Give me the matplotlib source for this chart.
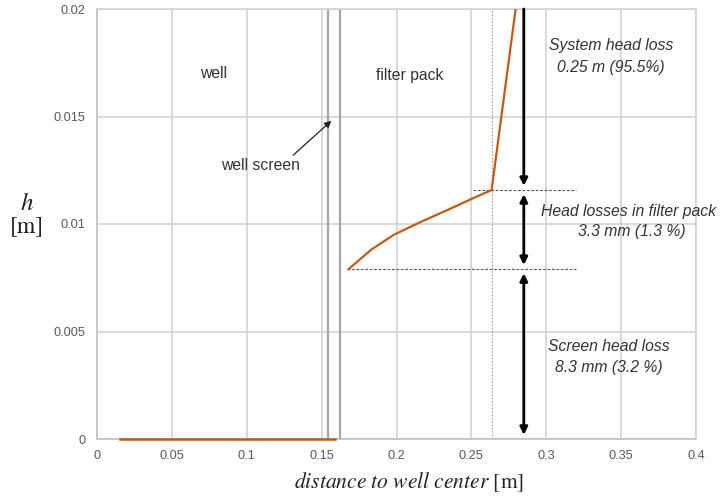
import matplotlib
matplotlib.use("Agg")
import matplotlib.pyplot as plt

# --- data ---
well_x = [0.0155, 0.159]
well_h = [0.0, 0.0]
pack_x = [0.168, 0.183, 0.198, 0.216, 0.234, 0.2515, 0.2635, 0.2805]
pack_h = [0.0079, 0.0088, 0.00949, 0.01009, 0.01065, 0.01121, 0.01158, 0.0205]
screen_x = [0.1545, 0.162]
pack_edge_x = 0.2635
level_screen = 0.0079
level_pack = 0.01158
arrow_x = 0.285
xticks = [0, 0.05, 0.1, 0.15, 0.2, 0.25, 0.3, 0.35, 0.4]
xtick_labels = ["0", "0.05", "0.1", "0.15", "0.2", "0.25", "0.3", "0.35", "0.4"]
yticks = [0, 0.005, 0.01, 0.015, 0.02]
ytick_labels = ["0", "0.005", "0.01", "0.015", "0.02"]

plt.rcParams["mathtext.fontset"] = "stix"

fig = plt.figure(figsize=(7.2, 5.0), dpi=100)
ax = fig.add_axes([0.1347, 0.122, 0.832, 0.860])
ax.set_xlim(0, 0.4)
ax.set_ylim(0, 0.02)

grid_c = "#d0d0d0"
ax.set_xticks(xticks)
ax.set_xticklabels(xtick_labels)
ax.set_yticks(yticks)
ax.set_yticklabels(ytick_labels)
ax.grid(True, color=grid_c, linewidth=1.1)
ax.set_axisbelow(True)
for s in ax.spines.values():
    s.set_color(grid_c)
    s.set_linewidth(1.1)
ax.spines["bottom"].set_color("#bdbdbd")
ax.spines["left"].set_color("#bdbdbd")
ax.tick_params(length=0, labelsize=9.2, labelcolor="#595959", pad=8)
for lab in ax.get_xticklabels() + ax.get_yticklabels():
    lab.set_family("Liberation Sans")

# well screen lines
for sx in screen_x:
    ax.axvline(sx, color="#a6a6a6", linewidth=1.6, zorder=2)

# dotted / dashed guide lines
ax.axvline(pack_edge_x, color="#a0a0a0", linewidth=0.8, linestyle=(0, (1.5, 1.5)), zorder=2)
ax.plot([0.251, 0.32], [level_pack, level_pack], color="#555555", linewidth=0.8,
        linestyle=(0, (2.5, 1.5)), zorder=2)
ax.plot([0.167, 0.32], [level_screen, level_screen], color="#555555", linewidth=0.8,
        linestyle=(0, (2.5, 1.5)), zorder=2)

# head curves
red = "#c55a11"
ax.plot(well_x, well_h, color=red, linewidth=1.8, zorder=3, clip_on=False)
ax.plot(pack_x, pack_h, color=red, linewidth=1.6, zorder=3)

# arrows
akw = dict(arrowstyle="-|>", color="black", lw=2.0, mutation_scale=11, shrinkA=0, shrinkB=3)
ax.annotate("", xy=(arrow_x, level_pack), xytext=(arrow_x, 0.02),
            arrowprops=akw, annotation_clip=False)
dkw = dict(arrowstyle="<|-|>", color="black", lw=2.0, mutation_scale=11, shrinkA=3, shrinkB=3)
ax.annotate("", xy=(arrow_x, level_screen), xytext=(arrow_x, level_pack), arrowprops=dkw)
ax.annotate("", xy=(arrow_x, 0.0), xytext=(arrow_x, level_screen), arrowprops=dkw)

# well screen pointer
ax.annotate("", xy=(0.1565, 0.0148), xytext=(0.131, 0.0132),
            arrowprops=dict(arrowstyle="-|>", color="#222222", lw=0.9, mutation_scale=10,
                            shrinkA=0, shrinkB=0))

tf = dict(family="Liberation Sans", fontsize=11.3, color="#333333", ha="center", va="center")
ax.text(0.0776, 0.0170, "well", **tf)
ax.text(0.209, 0.0169, "filter pack", **tf)
ax.text(0.109, 0.0127, "well screen", **tf)
tfi = dict(tf, style="italic")
ax.text(0.343, 0.01828, "System head loss", **tfi)
ax.text(0.343, 0.01726, "0.25 m (95.5%)", **tfi)
ax.text(0.355, 0.01056, "Head losses in filter pack", **tfi)
ax.text(0.357, 0.00963, "3.3 mm (1.3 %)", **tfi)
ax.text(0.342, 0.00428, "Screen head loss", **tfi)
ax.text(0.342, 0.00333, "8.3 mm (3.2 %)", **tfi)

# axis labels
fig.text(0.568, 0.035, r"$distance\ to\ well\ center$ [m]", family="STIXGeneral",
         fontsize=15.5, ha="center", va="center", color="#222222")
fig.text(0.037, 0.594, r"$h$", fontsize=18, ha="center", va="center", color="#222222")
fig.text(0.037, 0.548, "[m]", family="STIXGeneral", fontsize=17, ha="center", va="center",
         color="#222222")

fig.savefig("out.png", dpi=100, facecolor="white")
